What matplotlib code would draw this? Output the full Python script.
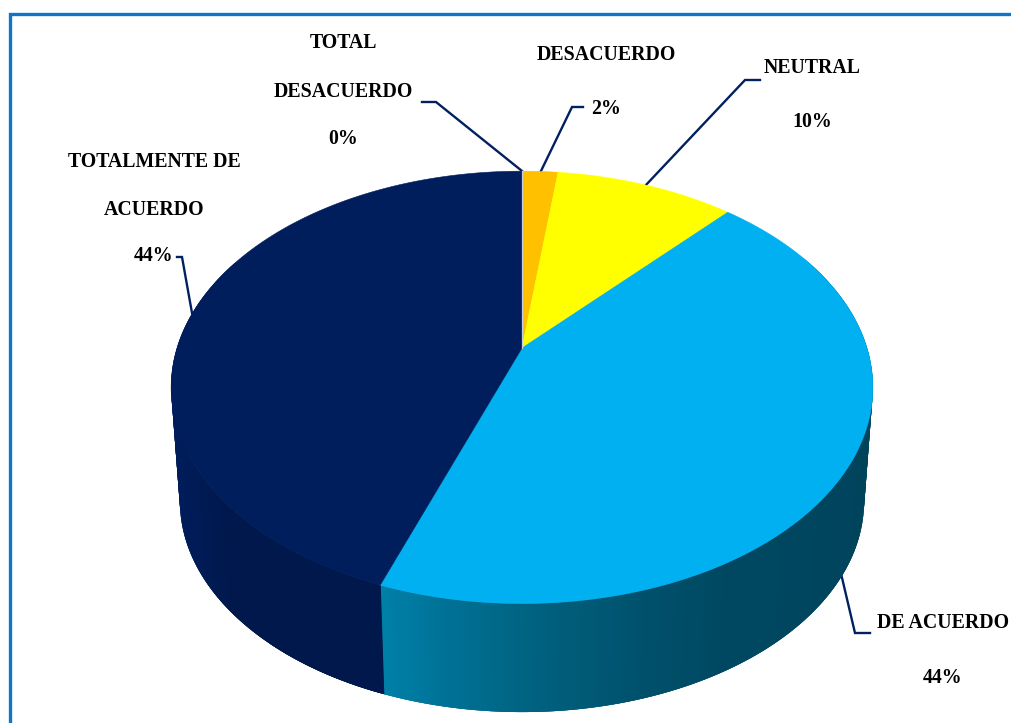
import numpy as np
import matplotlib
matplotlib.use("Agg")
import matplotlib.pyplot as plt
from matplotlib.patches import Polygon

# Survey answers, clockwise from twelve o'clock
categories = [["TOTAL", "DESACUERDO"], ["DESACUERDO"], ["NEUTRAL"], ["DE ACUERDO"], ["TOTALMENTE DE", "ACUERDO"]]
percentages = [0, 2, 10, 44, 44]
top_colors = ["#FFC000", "#FFC000", "#FFFF00", "#00B0F0", "#001E5C"]

# Label layout: centre x, y of each line (name lines, then percentage)
label_rows = [
    (343, [43, 92, 139]),
    (606, [55, 109]),
    (812, [68, 122]),
    (943, [623, 678]),
    (154, [162, 210, 256]),
]
leader_paths = [
    [(422, 102), (436, 102), (522, 171)],
    [(583, 107), (572, 107), (541, 171)],
    [(760, 80), (745, 80), (645, 186)],
    [(870, 633), (855, 633), (839, 565)],
    [(177, 257), (182, 257), (192, 313)],
]

FONT = "Liberation Serif"
LEADER = "#002060"
FRAME = "#0F75C8"

# Perspective projection of the disc onto the page
CX, K = 522.0, 0.182
TOP_Y, TOP_A, TOP_B = 348.0, 345.0, 209.0
LOW_Y, LOW_SCALE = 463.0, 0.975
SKEW = 0.03


def project(theta, y0, scale):
    t = theta - SKEW * np.sin(theta / 2)
    u, v = np.sin(t), np.cos(t)
    w = 1 + K * v
    return CX + scale * TOP_A * u / w, y0 - scale * TOP_B * v / w


def blue_side(x):
    stops_x = [380, 450, 540, 640, 720, 860]
    stops_g = [128, 112, 96, 80, 72, 68]
    stops_b = [168, 148, 125, 108, 98, 92]
    return (0, np.interp(x, stops_x, stops_g) / 255, np.interp(x, stops_x, stops_b) / 255)


def navy_side(x):
    stops_x = [170, 200, 230, 380]
    stops_g = [30, 27, 24, 24]
    stops_b = [92, 86, 76, 74]
    return (0, np.interp(x, stops_x, stops_g) / 255, np.interp(x, stops_x, stops_b) / 255)


fig = plt.figure(figsize=(10.11, 7.23), dpi=100, facecolor="white")
ax = fig.add_axes([0, 0, 1, 1])
ax.set_xlim(0, 1011)
ax.set_ylim(723, 0)
ax.axis("off")

# Outer frame: only the top and left edges fall inside the canvas
ax.plot([9.5, 9.5, 1011], [723, 13.5, 13.5], color=FRAME, lw=2.4, solid_joinstyle="miter")

fractions = np.cumsum([0] + percentages) / sum(percentages)
angles = 2 * np.pi * fractions

# Side wall from overlapping strips, so no seams show between them
blue_end = angles[4]
steps = np.linspace(np.pi * 0.35, np.pi * 1.65, 300)
overlap = 3
for i in range(len(steps) - 1):
    a, b = steps[i], steps[min(i + overlap, len(steps) - 1)]
    xt, yt = project(np.array([a, b]), TOP_Y, 1.0)
    xl, yl = project(np.array([a, b]), LOW_Y, LOW_SCALE)
    mid = 0.5 * (steps[i] + steps[i + 1])
    xm = 0.5 * (xl[0] + xl[1])
    col = blue_side(xm) if mid < blue_end else navy_side(xm)
    ax.add_patch(Polygon([(xt[0], yt[0]), (xt[1], yt[1]), (xl[1], yl[1]), (xl[0], yl[0])],
                         closed=True, facecolor=col, edgecolor="none", zorder=2))

# Side boundary between the two large slices, drawn over the strips
xb_t, yb_t = project(np.array([blue_end]), TOP_Y, 1.0)
xb_l, yb_l = project(np.array([blue_end]), LOW_Y, LOW_SCALE)
t = np.linspace(blue_end, blue_end + 0.35, 30)
xt, yt = project(t, TOP_Y, 1.0)
xl, yl = project(t, LOW_Y, LOW_SCALE)
ax.add_patch(Polygon(np.column_stack([np.r_[xt, xl[::-1]], np.r_[yt, yl[::-1]]]),
                     closed=True, facecolor=navy_side(300), edgecolor="none", zorder=2.5))

# Top face: one wedge per answer
for i, pct in enumerate(percentages):
    if pct == 0:
        continue
    t = np.linspace(angles[i], angles[i + 1], 200)
    x, y = project(t, TOP_Y, 1.0)
    pts = np.column_stack([np.r_[CX, x], np.r_[TOP_Y, y]])
    ax.add_patch(Polygon(pts, closed=True, facecolor=top_colors[i], edgecolor=top_colors[i], lw=0.4, zorder=3))

# The empty slice shows as a hairline at twelve o'clock
x0, y0 = project(np.array([angles[0]]), TOP_Y, 1.0)
ax.plot([CX, x0[0]], [TOP_Y, y0[0]], color="#C9CDD8", lw=0.9, zorder=4)

for path in leader_paths:
    xs, ys = zip(*path)
    ax.plot(xs, ys, color=LEADER, lw=1.7, zorder=1, solid_joinstyle="miter")

for names, pct, (cx, rows) in zip(categories, percentages, label_rows):
    for text, yy in zip(names + [f"{pct}%"], rows):
        ax.text(cx, yy, text, ha="center", va="center", family=FONT, weight="bold",
                fontsize=14.3, color="#000000", zorder=5)

fig.savefig("out.png", dpi=100, facecolor="white")
